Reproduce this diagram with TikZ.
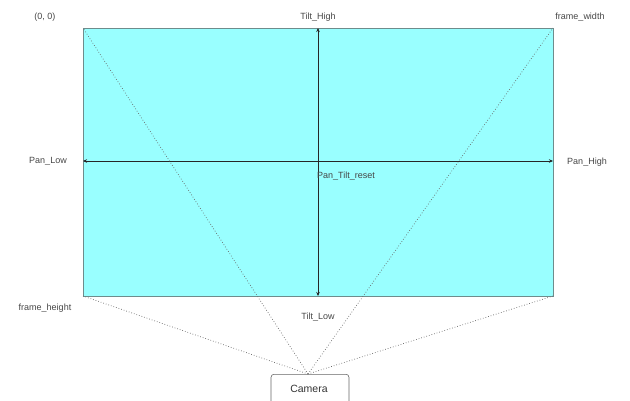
\documentclass[tikz,border=0pt]{standalone}
\usepackage{fontspec}
\setmainfont{Liberation Sans}
\usetikzlibrary{arrows.meta}
\definecolor{framefill}{RGB}{153,255,255}
\definecolor{frameedge}{RGB}{110,140,140}
\definecolor{lbl}{RGB}{70,70,70}
\begin{document}
\begin{tikzpicture}[x=1pt,y=-1pt,
  lab/.style={font=\fontsize{9}{11}\selectfont, text=lbl, inner sep=1pt},
  axisline/.style={draw=black!85, line width=0.6pt, {Stealth[length=4pt,width=3.5pt]}-{Stealth[length=4pt,width=3.5pt]}},
  ray/.style={draw=black!60, dotted, line width=0.7pt},
  cambox/.style={draw=black!60, rounded corners=3pt, line width=0.6pt, minimum width=78pt, minimum height=32pt, font=\fontsize{10.5}{12}\selectfont, text=black!80}]
\useasboundingbox (0,0) rectangle (630,401);
\fill[framefill] (83,28) rectangle (553,296);
\draw[frameedge, line width=0.8pt] (83,28) rectangle (553,296);
\coordinate (tl) at (83,28);
\coordinate (tr) at (553,28);
\coordinate (bl) at (83,296);
\coordinate (br) at (553,296);
\coordinate (top) at (318,28);
\coordinate (bot) at (318,296);
\coordinate (lft) at (83,161);
\coordinate (rgt) at (553,161);
\draw[axisline] (bot) -- (top);
\draw[axisline] (lft) -- (rgt);
\node[cambox, anchor=north] (cam) at (310,374) {};
\node[font=\fontsize{10.5}{12}\selectfont, text=black!80] (camlabel) at (309,389) {Camera};
\coordinate (eye) at (308,374);
\draw[ray] (eye) -- (tl);
\draw[ray] (eye) -- (tr);
\draw[ray] (eye) -- (bl);
\draw[ray] (eye) -- (br);
\node[lab] (origin) at (45,17) {(0, 0)};
\node[lab] (tilthigh) at (318,17) {Tilt\_High};
\node[lab] (fw) at (580,17) {frame\_width};
\node[lab] (panlow) at (48,161) {Pan\_Low};
\node[lab] (reset) at (346,176) {Pan\_Tilt\_reset};
\node[lab] (panhigh) at (587,162) {Pan\_High};
\node[lab] (fh) at (45,308) {frame\_height};
\node[lab] (tiltlow) at (318,317) {Tilt\_Low};
\end{tikzpicture}
\end{document}
